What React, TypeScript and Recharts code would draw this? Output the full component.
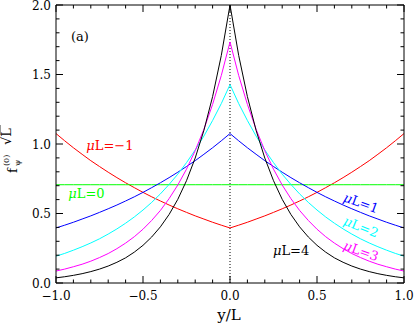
import React from "react";
import { LineChart, Line, XAxis, YAxis, ReferenceLine, ReferenceDot } from "recharts";

// half profile, y/L >= 0 (curves are symmetric about y = 0)
const yOverL = [0, 0.05, 0.1, 0.15, 0.2, 0.25, 0.3, 0.35, 0.4, 0.45, 0.5, 0.55, 0.6, 0.65, 0.7, 0.75, 0.8, 0.85, 0.9, 0.95, 1.0];
const muLm1 = [0.396, 0.416, 0.437, 0.46, 0.483, 0.508, 0.534, 0.561, 0.59, 0.62, 0.652, 0.686, 0.721, 0.758, 0.797, 0.838, 0.88, 0.926, 0.973, 1.023, 1.075];
const muL0 = [0.707, 0.707, 0.707, 0.707, 0.707, 0.707, 0.707, 0.707, 0.707, 0.707, 0.707, 0.707, 0.707, 0.707, 0.707, 0.707, 0.707, 0.707, 0.707, 0.707, 0.707];
const muL1 = [1.075, 1.023, 0.973, 0.926, 0.88, 0.838, 0.797, 0.758, 0.721, 0.686, 0.652, 0.62, 0.59, 0.561, 0.534, 0.508, 0.483, 0.46, 0.437, 0.416, 0.396];
const muL2 = [1.427, 1.291, 1.169, 1.057, 0.957, 0.866, 0.783, 0.709, 0.641, 0.58, 0.525, 0.475, 0.43, 0.389, 0.352, 0.318, 0.288, 0.261, 0.236, 0.213, 0.193];
const muL3 = [1.734, 1.493, 1.285, 1.106, 0.952, 0.819, 0.705, 0.607, 0.522, 0.45, 0.387, 0.333, 0.287, 0.247, 0.212, 0.183, 0.157, 0.135, 0.117, 0.1, 0.086];
const muL4 = [2.0, 1.637, 1.341, 1.098, 0.899, 0.736, 0.602, 0.493, 0.404, 0.331, 0.271, 0.222, 0.181, 0.149, 0.122, 0.1, 0.082, 0.067, 0.055, 0.045, 0.037];

const xTicks = [-1, -0.9, -0.8, -0.7, -0.6, -0.5, -0.4, -0.3, -0.2, -0.1, 0, 0.1, 0.2, 0.3, 0.4, 0.5, 0.6, 0.7, 0.8, 0.9, 1];
const yTicks = [0, 0.1, 0.2, 0.3, 0.4, 0.5, 0.6, 0.7, 0.8, 0.9, 1, 1.1, 1.2, 1.3, 1.4, 1.5, 1.6, 1.7, 1.8, 1.9, 2];

const rows: any[] = [];
for (let i = yOverL.length - 1; i > 0; i--) {
  rows.push({ x: -yOverL[i], m1: muLm1[i], m0: muL0[i], p1: muL1[i], p2: muL2[i], p3: muL3[i], p4: muL4[i] });
}
for (let i = 0; i < yOverL.length; i++) {
  rows.push({ x: yOverL[i], m1: muLm1[i], m0: muL0[i], p1: muL1[i], p2: muL2[i], p3: muL3[i], p4: muL4[i] });
}

const W = 414;
const H = 325;
const PL = 56, PR = 404, PT = 5, PB = 283;
const FONT = "DejaVu Serif";

const isMajor = (v: number) => Math.abs(v * 2 - Math.round(v * 2)) < 1e-6;
const fmt = (v: number) => (v < 0 ? "\u2212" + Math.abs(v).toFixed(1) : v.toFixed(1));

const BottomTick = (props: any) => {
  const { x, payload } = props;
  const major = isMajor(payload.value);
  return (
    <g>
      <line x1={x} x2={x} y1={PB} y2={PB - (major ? 7 : 3.5)} stroke="#000" />
      {major && (
        <text x={x} y={300} textAnchor="middle" fontFamily={FONT} fontSize={12} fill="#000">
          {fmt(payload.value)}
        </text>
      )}
    </g>
  );
};

const TopTick = (props: any) => {
  const { x, payload } = props;
  const major = isMajor(payload.value);
  return <line x1={x} x2={x} y1={PT} y2={PT + (major ? 7 : 3.5)} stroke="#000" />;
};

const LeftTick = (props: any) => {
  const { y, payload } = props;
  const major = isMajor(payload.value);
  return (
    <g>
      <line x1={PL} x2={PL + (major ? 7 : 3.5)} y1={y} y2={y} stroke="#000" />
      {major && (
        <text x={51} y={y + 4.5} textAnchor="end" fontFamily={FONT} fontSize={12} fill="#000">
          {fmt(payload.value)}
        </text>
      )}
    </g>
  );
};

const RightTick = (props: any) => {
  const { y, payload } = props;
  const major = isMajor(payload.value);
  return <line x1={PR} x2={PR - (major ? 7 : 3.5)} y1={y} y2={y} stroke="#000" />;
};

const curveLabel = (rest: string, color: string, angle = 0) => (p: any) => (
  <text
    x={p.cx}
    y={p.cy}
    dy={angle ? 4.5 : 0}
    textAnchor="middle"
    fontFamily={FONT}
    fontSize={13}
    fill={color}
    transform={angle ? `rotate(${angle} ${p.cx} ${p.cy})` : undefined}
  >
    <tspan fontStyle="italic">μ</tspan>
    {"L=" + rest}
  </text>
);

export default function App() {
  return (
    <div style={{ position: "absolute", left: 0, top: 0, width: W, height: H, background: "#fff" }}>
      <LineChart width={W} height={H} data={rows} margin={{ top: 0, right: 0, bottom: 0, left: 0 }}>
        <XAxis dataKey="x" type="number" domain={[-1, 1]} ticks={xTicks} interval={0} height={H - PB}
          tick={BottomTick} tickLine={false} axisLine={{ stroke: "#000" }} allowDataOverflow />
        <XAxis xAxisId="top" orientation="top" dataKey="x" type="number" domain={[-1, 1]} ticks={xTicks} interval={0}
          height={PT} tick={TopTick} tickLine={false} axisLine={{ stroke: "#000" }} allowDataOverflow />
        <YAxis type="number" domain={[0, 2]} ticks={yTicks} interval={0} width={PL}
          tick={LeftTick} tickLine={false} axisLine={{ stroke: "#000" }} allowDataOverflow />
        <YAxis yAxisId="right" orientation="right" type="number" domain={[0, 2]} ticks={yTicks} interval={0} width={W - PR}
          tick={RightTick} tickLine={false} axisLine={{ stroke: "#000" }} allowDataOverflow />
        <ReferenceLine x={0} stroke="#000" strokeDasharray="1 2" />
        <Line dataKey="m1" stroke="#ff0000" strokeWidth={1} dot={false} isAnimationActive={false} />
        <Line dataKey="m0" stroke="#00ff00" strokeWidth={1} dot={false} isAnimationActive={false} />
        <Line dataKey="p1" stroke="#0000ff" strokeWidth={1} dot={false} isAnimationActive={false} />
        <Line dataKey="p2" stroke="#00ffff" strokeWidth={1} dot={false} isAnimationActive={false} />
        <Line dataKey="p3" stroke="#ff00ff" strokeWidth={1} dot={false} isAnimationActive={false} />
        <Line dataKey="p4" stroke="#000000" strokeWidth={1} dot={false} isAnimationActive={false} />
        <ReferenceDot x={-0.69} y={0.957} r={0} ifOverflow="visible" shape={curveLabel("\u22121", "#ff0000")} />
        <ReferenceDot x={-0.825} y={0.612} r={0} ifOverflow="visible" shape={curveLabel("0", "#00ff00")} />
        <ReferenceDot x={0.753} y={0.576} r={0} ifOverflow="visible" shape={curveLabel("1", "#0000ff", 20)} />
        <ReferenceDot x={0.753} y={0.403} r={0} ifOverflow="visible" shape={curveLabel("2", "#00ffff", 22)} />
        <ReferenceDot x={0.753} y={0.23} r={0} ifOverflow="visible" shape={curveLabel("3", "#ff00ff", 20)} />
        <ReferenceDot x={0.351} y={0.201} r={0} ifOverflow="visible" shape={curveLabel("4", "#000000")} />
        <ReferenceDot x={-0.862} y={1.741} r={0} ifOverflow="visible"
          shape={(p: any) => (
            <text x={p.cx} y={p.cy} textAnchor="middle" fontFamily={FONT} fontSize={13} fill="#000">(a)</text>
          )} />
      </LineChart>
      <svg width={W} height={H} style={{ position: "absolute", left: 0, top: 0, pointerEvents: "none" }}>
        <text x={229} y={320} textAnchor="middle" fontFamily={FONT} fontSize={15} fill="#000">y/L</text>
        <g transform="translate(17,150) rotate(-90)" fontFamily={FONT} fill="#000">
          <text x={-23} y={0} fontSize={13}>f</text>
          <text x={-16} y={-8} fontSize={8}>(0)</text>
          <text x={-16} y={3} fontSize={8}>ψ</text>
          <text x={5} y={-6} fontSize={13}>√L</text>
          <line x1={15} x2={25} y1={-17} y2={-17} stroke="#000" strokeWidth={0.8} />
        </g>
      </svg>
    </div>
  );
}
